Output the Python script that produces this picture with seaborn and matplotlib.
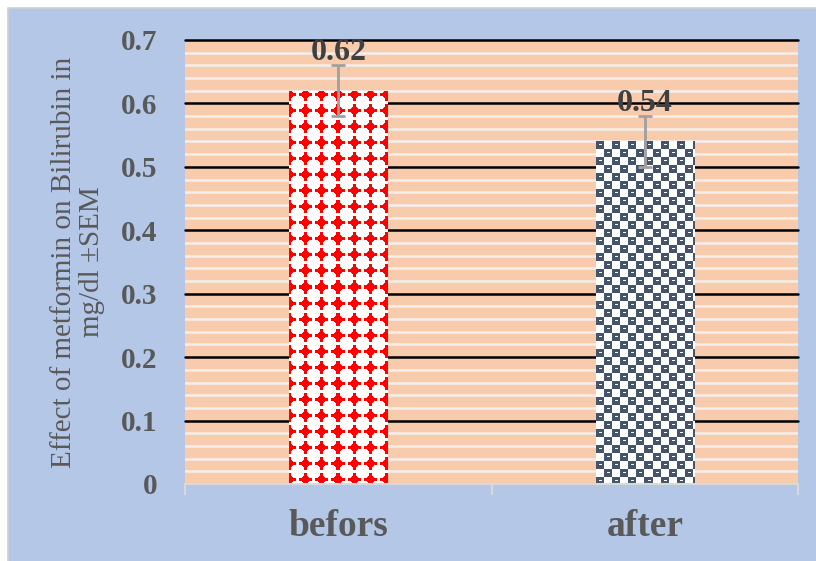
import numpy as np
import pandas as pd
import matplotlib
matplotlib.use("Agg")
import matplotlib.pyplot as plt
from matplotlib.patches import Rectangle
from matplotlib.ticker import FixedLocator
import seaborn as sns

# ---- data ----
groups = ["befors", "after"]
bilirubin = [0.62, 0.54]
sem = [0.04, 0.04]
yticks = [0, 0.1, 0.2, 0.3, 0.4, 0.5, 0.6, 0.7]
ylabel = "Effect of metformin on Bilirubin in\nmg/dl \u00b1SEM"

BLUE = "#B4C7E7"
PEACH = "#F8CBAD"
GREY_TXT = "#595959"
SERIF = ["Liberation Serif", "DejaVu Serif"]

sns.set_theme(style="white")
plt.rcParams["font.family"] = SERIF

W, H, DPI = 816, 561, 100
fig = plt.figure(figsize=(W / DPI, H / DPI), dpi=DPI, facecolor="white")
# light-blue chart area with a thin grey frame
fig.patches.append(Rectangle((8 / W, -0.1), 1.2, (H - 8) / H + 0.1,
                             transform=fig.transFigure, facecolor=BLUE,
                             edgecolor="#D0D0D0", lw=1.2, zorder=-10))

ax = fig.add_axes([185 / W, 1 - 484 / H, (798 - 185) / W, (484 - 40) / H])
ax.set_facecolor(PEACH)

df = pd.DataFrame({"group": groups, "value": bilirubin})
sns.barplot(data=df, x="group", y="value", hue="group",
            palette=["white", "white"], width=0.32, legend=False,
            ax=ax, zorder=3, edgecolor="none", linewidth=0)

ax.set_ylim(0, 0.7)
ax.set_xlim(-0.5, 1.5)

# grid: black major lines, white minor lines
ax.grid(False)
for v in np.arange(0.02, 0.7, 0.02):
    if abs(v * 10 - round(v * 10)) > 1e-6:
        ax.axhline(v, color="#F4EFEC", lw=1.8, zorder=1)
for v in yticks[1:]:
    ax.axhline(v, color="black", lw=1.8, zorder=2, clip_on=False)

# error bars
ax.errorbar([0, 1], bilirubin, yerr=sem, fmt="none", ecolor="#A0A0A0",
            elinewidth=2, capsize=5, capthick=2, zorder=5)

# value labels
for i, (v, e) in enumerate(zip(bilirubin, sem)):
    ax.annotate(f"{v:.2f}", (i, v + e), xytext=(0, 4), textcoords="offset points",
                ha="center", va="baseline", fontsize=23, fontweight="bold",
                color="#404040", zorder=6)

# patterned fills clipped to each bar
fig.canvas.draw()
bars = [p for p in ax.patches if p.get_height() > 0]


def red_diamonds(h, w):
    yy, xx = np.mgrid[0:h, 0:w]
    u = (xx + 8) % 16 - 8
    v = (yy + 4) % 16 - 8
    au, av = np.abs(u), np.abs(v)
    d = (au + av <= 5) | ((au <= 1) & (av <= 6)) | ((av <= 1) & (au <= 6))
    img = np.ones((h, w, 3))
    img[d] = [1.0, 0.0, 0.0]
    return img


def slate_weave(h, w):
    yy, xx = np.mgrid[0:h, 0:w]
    dark = ((yy // 8) + (xx // 8)) % 2 == 0
    ly, lx = yy % 8, xx % 8
    notch = dark & (ly == 3) & (lx >= 3) & (lx <= 5)
    img = np.ones((h, w, 3))
    rgb = np.array([0x44, 0x54, 0x6A]) / 255
    img[dark] = rgb
    img[notch] = [1, 1, 1]
    return img


for bar, maker in zip(bars, [red_diamonds, slate_weave]):
    bb = bar.get_window_extent()
    pw, ph = int(round(bb.width)), int(round(bb.height))
    img = maker(ph, pw)
    x0 = bar.get_x()
    im = ax.imshow(img, extent=[x0, x0 + bar.get_width(), 0, bar.get_height()],
                   origin="upper", aspect="auto", interpolation="nearest", zorder=4)
    im.set_clip_path(bar)

ax.set_ylim(0, 0.7)
ax.set_xlim(-0.5, 1.5)

# axes styling
for s in ["top", "right", "left"]:
    ax.spines[s].set_visible(False)
ax.spines["bottom"].set_color("#D9D9D9")
ax.spines["bottom"].set_linewidth(1.5)
ax.spines["bottom"].set_zorder(7)

ax.set_yticks(yticks)
ax.set_yticklabels(["0" if t == 0 else f"{t:.1f}" for t in yticks])
ax.tick_params(axis="y", which="both", length=0, pad=20, labelsize=21,
               labelcolor=GREY_TXT)
for t in ax.get_yticklabels():
    t.set_fontweight("bold")

ax.set_xticks([0, 1])
ax.set_xticklabels(groups)
ax.xaxis.set_minor_locator(FixedLocator([-0.5, 0.5, 1.5]))
ax.tick_params(axis="x", which="major", length=0, pad=18, labelsize=27,
               labelcolor=GREY_TXT)
ax.tick_params(axis="x", which="minor", length=8, width=1.5, color="#D9D9D9",
               bottom=True)
for t in ax.get_xticklabels():
    t.set_fontweight("bold")

ax.set_xlabel("")
ax.set_ylabel(ylabel, fontsize=21, color=GREY_TXT, linespacing=1.1,
              multialignment="center")
ax.yaxis.set_label_coords(-0.13, 0.5)

fig.savefig("out.png", dpi=DPI, facecolor=fig.get_facecolor())
